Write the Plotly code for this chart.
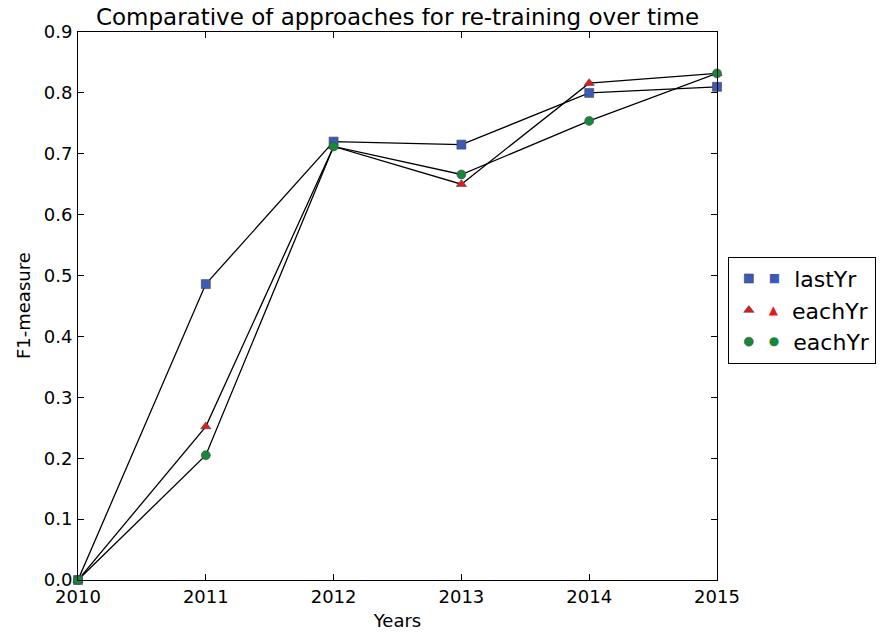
import plotly.graph_objects as go

years = [2010, 2011, 2012, 2013, 2014, 2015]
last_yr = [0.0, 0.486, 0.720, 0.715, 0.800, 0.810]
each_yr_a = [0.0, 0.252, 0.712, 0.650, 0.816, 0.832]
each_yr_b = [0.0, 0.205, 0.712, 0.666, 0.754, 0.832]

series = [
    ("lastYr", last_yr, "square", "#3a5bb8", "\u25A0"),
    ("eachYr", each_yr_a, "triangle-up", "#e3191c", "\u25B2"),
    ("eachYr", each_yr_b, "circle", "#15883a", "\u25CF"),
]

fig = go.Figure()
for name, vals, sym, col, glyph in series:
    fig.add_trace(go.Scatter(x=years, y=vals, mode="lines", line=dict(color="black", width=1.3),
                             showlegend=False, hoverinfo="skip"))
for i, (name, vals, sym, col, glyph) in enumerate(series):
    label = (f"<span style='font-size:12px'><sup><span style='color:{col};font-size:12px'>"
             f"{glyph}</span></sup></span>  {name}")
    fig.add_trace(go.Scatter(x=years, y=vals, mode="markers", name=label, legendgroup=f"g{i}",
                             marker=dict(symbol=sym, color=col, size=9,
                                         line=dict(color="#444444", width=0.6)),
                             cliponaxis=False))

font_family = "DejaVu Sans"
fig.update_layout(
    width=878, height=628,
    margin=dict(l=70, r=169, t=24, b=56, autoexpand=False),
    paper_bgcolor="white", plot_bgcolor="white",
    font=dict(family=font_family, size=18, color="black"),
    title=dict(text="Comparative of approaches for re-training over time", x=0.5, xref="paper",
               xanchor="center", y=0.986, yref="container", yanchor="middle", font=dict(size=23)),
    xaxis=dict(range=[2010, 2015], dtick=1, tick0=2010, showgrid=False, zeroline=False,
               showline=True, linecolor="black", linewidth=1, mirror="ticks", automargin=False,
               ticks="inside", ticklen=6, tickcolor="black",
               title=dict(text="Years", font=dict(size=18), standoff=8)),
    yaxis=dict(range=[0, 0.9], dtick=0.1, tick0=0, tickformat=".1f", showgrid=False, zeroline=False,
               showline=True, linecolor="black", linewidth=1, mirror="ticks", automargin=False,
               ticks="inside", ticklen=6, tickcolor="black", ticklabelstandoff=1),
    legend=dict(x=1.017, y=0.59, xanchor="left", yanchor="top",
                bordercolor="black", borderwidth=1, bgcolor="white",
                font=dict(size=22), itemwidth=30, tracegroupgap=0),
    annotations=[dict(text="F1-measure", xref="paper", yref="paper", x=-0.086, y=0.5,
                      xanchor="center", yanchor="middle", textangle=-90, showarrow=False,
                      font=dict(size=18))],
)

fig.write_html("out.html")
